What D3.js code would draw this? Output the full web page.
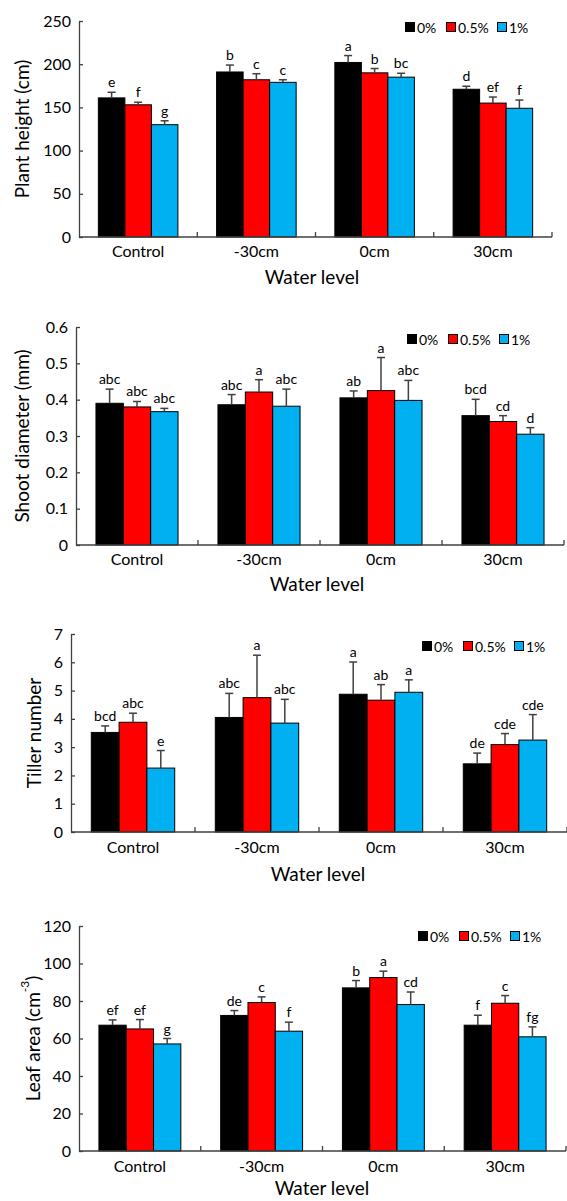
<!DOCTYPE html>
<html>
<head>
<meta charset="utf-8">
<script src="https://cdn.jsdelivr.net/npm/d3@7"></script>
<style>
  body { margin: 0; background: #fff; }
  svg { display: block; font-family: Lato, 'Open Sans', sans-serif; }
</style>
</head>
<body>
<svg id="chart"></svg>
<script>
const categories = ['Control', '-30cm', '0cm', '30cm'];
const series = ['0%', '0.5%', '1%'];
const colors = ['#000000', '#ff0000', '#00b0f0'];

// rows = water level, cols = series
const heightMean = [[161, 153, 130], [191, 182, 179], [202, 190, 185], [171, 155, 149]];
const heightErr = [[6.5, 3, 4.5], [8, 7, 3], [8, 5, 4.5], [3.5, 7, 9.5]];
const heightLetters = [['e', 'f', 'g'], ['b', 'c', 'c'], ['a', 'b', 'bc'], ['d', 'ef', 'f']];
const heightTicks = [0, 50, 100, 150, 200, 250];

const diamMean = [[0.39, 0.38, 0.367], [0.386, 0.421, 0.382], [0.405, 0.425, 0.398], [0.356, 0.34, 0.305]];
const diamErr = [[0.039, 0.015, 0.009], [0.028, 0.034, 0.047], [0.019, 0.091, 0.055], [0.045, 0.016, 0.018]];
const diamLetters = [['abc', 'abc', 'abc'], ['abc', 'a', 'abc'], ['ab', 'a', 'abc'], ['bcd', 'cd', 'd']];
const diamTicks = [0, 0.1, 0.2, 0.3, 0.4, 0.5, 0.6];

const tillerMean = [[3.52, 3.88, 2.26], [4.05, 4.75, 3.85], [4.87, 4.66, 4.94], [2.41, 3.09, 3.25]];
const tillerErr = [[0.23, 0.32, 0.62], [0.85, 1.5, 0.84], [1.14, 0.55, 0.44], [0.38, 0.39, 0.9]];
const tillerLetters = [['bcd', 'abc', 'e'], ['abc', 'a', 'abc'], ['a', 'ab', 'a'], ['de', 'cde', 'cde']];
const tillerTicks = [0, 1, 2, 3, 4, 5, 6, 7];

const leafMean = [[67.1, 65.1, 57.1], [72.3, 79.2, 63.9], [87, 92.5, 78.1], [67.1, 78.8, 60.9]];
const leafErr = [[2.8, 5, 2.9], [2.6, 3, 4.8], [3.9, 3.4, 6.7], [5.3, 4.1, 5.3]];
const leafLetters = [['ef', 'ef', 'g'], ['de', 'c', 'f'], ['b', 'a', 'cd'], ['f', 'c', 'fg']];
const leafTicks = [0, 20, 40, 60, 80, 100, 120];

const W = 567, H = 1201;
const axisColor = '#404040';

const svg = d3.select('#chart').attr('width', W).attr('height', H);

const panels = [
  { mean: heightMean, err: heightErr, letters: heightLetters, ticks: heightTicks, title: 'Plant height (cm)',
    x0: 79, x1: 552, yTop: 21, yBase: 237, legY: 27, legX: 410, yLabX: 21, catY: 257, titleY: 284, titleX: 312 },
  { mean: diamMean, err: diamErr, letters: diamLetters, ticks: diamTicks, title: 'Shoot diameter (mm)',
    x0: 76, x1: 564, yTop: 327, yBase: 545, legY: 339, legX: 412, yLabX: 21, catY: 565, titleY: 591, titleX: 317 },
  { mean: tillerMean, err: tillerErr, letters: tillerLetters, ticks: tillerTicks, title: 'Tiller number',
    x0: 71, x1: 567, yTop: 634, yBase: 832, legY: 646, legX: 427, yLabX: 33, catY: 853, titleY: 881, titleX: 318 },
  { mean: leafMean, err: leafErr, letters: leafLetters, ticks: leafTicks, title: 'Leaf area (cm',
    sup: '-3', x0: 79, x1: 566, yTop: 926, yBase: 1151, legY: 936, legX: 423, yLabX: 32, catY: 1172, titleY: 1195, titleX: 322 }
];

panels.forEach(p => {
  const g = svg.append('g');

  const x = d3.scaleBand().domain(categories).range([p.x0, p.x1]).padding(0);
  const xs = d3.scaleBand().domain(series).range([0, x.bandwidth()]).paddingInner(0).paddingOuter(0.73);
  const y = d3.scaleLinear().domain([0, d3.max(p.ticks)]).range([p.yBase, p.yTop]);

  const rows = [];
  categories.forEach((c, i) => series.forEach((s, j) => {
    rows.push({ c, s, j, v: p.mean[i][j], e: p.err[i][j], l: p.letters[i][j] });
  }));

  // bars
  g.selectAll('rect.bar').data(rows).enter().append('rect')
    .attr('class', 'bar')
    .attr('x', d => x(d.c) + xs(d.s))
    .attr('y', d => y(d.v))
    .attr('width', xs.bandwidth())
    .attr('height', d => y(0) - y(d.v))
    .attr('fill', d => colors[d.j])
    .attr('stroke', '#000')
    .attr('stroke-width', 1);

  // error bars (upper only)
  const eb = g.selectAll('g.err').data(rows).enter().append('g').attr('class', 'err');
  eb.append('line')
    .attr('x1', d => x(d.c) + xs(d.s) + xs.bandwidth() / 2)
    .attr('x2', d => x(d.c) + xs(d.s) + xs.bandwidth() / 2)
    .attr('y1', d => y(d.v))
    .attr('y2', d => y(d.v + d.e))
    .attr('stroke', axisColor).attr('stroke-width', 1.5);
  eb.append('line')
    .attr('x1', d => x(d.c) + xs(d.s) + xs.bandwidth() / 2 - 4)
    .attr('x2', d => x(d.c) + xs(d.s) + xs.bandwidth() / 2 + 4)
    .attr('y1', d => y(d.v + d.e))
    .attr('y2', d => y(d.v + d.e))
    .attr('stroke', axisColor).attr('stroke-width', 1.5);

  // letters
  g.selectAll('text.sig').data(rows).enter().append('text')
    .attr('class', 'sig')
    .attr('x', d => x(d.c) + xs(d.s) + xs.bandwidth() / 2)
    .attr('y', d => y(d.v + d.e) - 5)
    .attr('text-anchor', 'middle')
    .attr('font-size', 14)
    .attr('fill', '#000')
    .text(d => d.l);

  // y axis, ticks pointing inward
  const yAxis = g.append('g')
    .attr('transform', `translate(${p.x0},0)`)
    .call(d3.axisRight(y).tickValues(p.ticks).tickSize(4).tickSizeOuter(0).tickFormat(d3.format('')));
  yAxis.select('.domain').attr('stroke', axisColor).attr('stroke-width', 1.3);
  yAxis.selectAll('.tick line').attr('stroke', axisColor).attr('stroke-width', 1.3);
  yAxis.selectAll('.tick text')
    .attr('x', -8).attr('text-anchor', 'end')
    .attr('font-size', 16).attr('font-family', 'Lato, sans-serif').attr('fill', '#000');

  // x axis with ticks at band edges, pointing up
  const xAxis = g.append('g').attr('transform', `translate(0,${p.yBase})`);
  xAxis.append('line').attr('x1', p.x0).attr('x2', p.x1).attr('y1', 0).attr('y2', 0)
    .attr('stroke', axisColor).attr('stroke-width', 1.3);
  xAxis.selectAll('line.edge').data(categories).enter().append('line')
    .attr('class', 'edge')
    .attr('x1', d => x(d) + x.bandwidth()).attr('x2', d => x(d) + x.bandwidth())
    .attr('y1', 0).attr('y2', -5)
    .attr('stroke', axisColor).attr('stroke-width', 1.3);
  xAxis.selectAll('text').data(categories).enter().append('text')
    .attr('x', d => x(d) + x.bandwidth() / 2)
    .attr('y', p.catY - p.yBase)
    .attr('text-anchor', 'middle')
    .attr('font-size', 16)
    .text(d => d);

  // axis titles
  g.append('text')
    .attr('x', p.titleX).attr('y', p.titleY)
    .attr('text-anchor', 'middle').attr('font-size', 19)
    .text('Water level');

  const yt = g.append('text')
    .attr('transform', `translate(${p.yLabX},${(p.yTop + p.yBase) / 2}) rotate(-90)`)
    .attr('text-anchor', 'middle').attr('dominant-baseline', 'central')
    .attr('font-size', 19)
    .text(p.title);
  if (p.sup) {
    yt.append('tspan').attr('baseline-shift', 'super').attr('font-size', 12).text(p.sup);
    yt.append('tspan').text(')');
  }

  // legend
  const offs = [0, 41, 92];
  const leg = g.append('g').attr('transform', `translate(${p.legX},${p.legY})`);
  series.forEach((s, j) => {
    leg.append('rect')
      .attr('x', offs[j] - 4.5).attr('y', -4.5)
      .attr('width', 9).attr('height', 9)
      .attr('fill', colors[j]).attr('stroke', '#000').attr('stroke-width', 1);
    leg.append('text')
      .attr('x', offs[j] + 7).attr('y', 0)
      .attr('dominant-baseline', 'central')
      .attr('font-size', 14)
      .text(s);
  });
});
</script>
</body>
</html>
